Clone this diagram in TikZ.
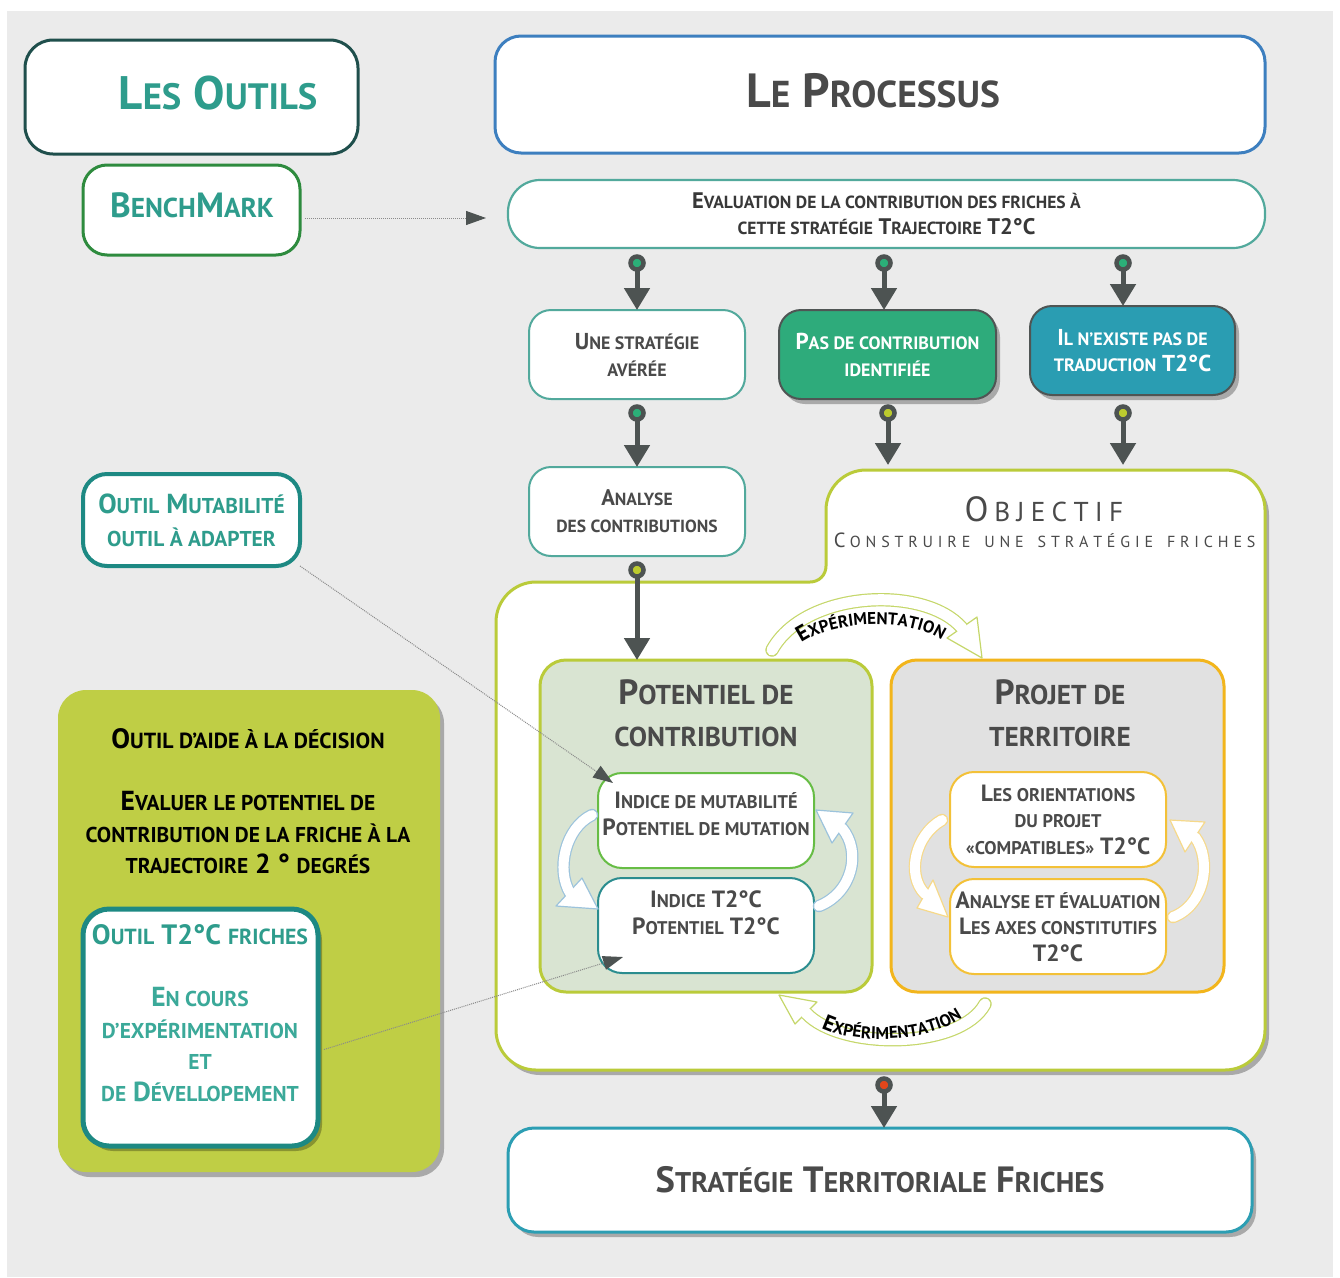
\documentclass[tikz,border=0pt]{standalone}
\usepackage{fontspec}
\setmainfont{PT Sans}
\usetikzlibrary{arrows.meta,shadows,decorations.text}
\definecolor{bgc}{HTML}{EBEBEB}
\definecolor{outc}{HTML}{1F4F4C}
\definecolor{tealtxt}{HTML}{2E9C8C}
\definecolor{benchc}{HTML}{2E8B3E}
\definecolor{procc}{HTML}{3D7FBF}
\definecolor{evalc}{HTML}{52A99C}
\definecolor{txtc}{HTML}{4A4A4A}
\definecolor{darkbord}{HTML}{4F5554}
\definecolor{pasc}{HTML}{2EAB7B}
\definecolor{ilnc}{HTML}{2A9DB2}
\definecolor{ringc}{HTML}{4D5352}
\definecolor{dgreen}{HTML}{2BAF78}
\definecolor{dlime}{HTML}{BCCB2E}
\definecolor{dred}{HTML}{E2461B}
\definecolor{objc}{HTML}{BACB3A}
\definecolor{potfill}{HTML}{D9E4D2}
\definecolor{projfill}{HTML}{E1E1E1}
\definecolor{projc}{HTML}{F2B51C}
\definecolor{indac}{HTML}{67BD45}
\definecolor{indbc}{HTML}{2B8D8F}
\definecolor{orc}{HTML}{F3C138}
\definecolor{bluec}{HTML}{9CC3DC}
\definecolor{yelc}{HTML}{F6D98A}
\definecolor{expc}{HTML}{C5D76A}
\definecolor{panelc}{HTML}{BFCE45}
\definecolor{mutc}{HTML}{1D8983}
\definecolor{ttxt}{HTML}{3BA999}
\definecolor{stratc}{HTML}{2C9EB3}
\definecolor{dotc}{HTML}{8A8A8A}
\newcommand\sm[1]{\scalebox{0.78}{\MakeUppercase{#1}}}
\newcommand\fs[2]{\fontsize{#1}{#2}\selectfont}
\newlength\lspamt
\def\lsp#1{\lspA#1\relax}
\def\lspA#1{\ifx#1\relax\else#1\hspace{\lspamt}\expandafter\lspA\fi}
% hollow block arrow: #1 colour, #2 shaft path, #3 head polygon, #4 outer width, #5 inner width
\newcommand\harrow[5]{%
  \draw[draw=#1, line width=#4, line cap=round] #2;
  \filldraw[draw=#1, fill=white, line width=1.2pt, line join=round] #3 -- cycle;
  \draw[white, line width=#5, line cap=round] #2;
}
\begin{document}
\begin{tikzpicture}[x=1pt,y=-1pt,
  every node/.style={inner sep=0pt, outer sep=0pt},
  bx/.style={draw, fill=white, rounded corners=22, align=center, text=txtc},
  shad/.style={drop shadow={shadow xshift=4pt, shadow yshift=-5pt, opacity=0.28, fill=black}},
  dotring/.style={circle, draw=ringc, line width=4.5pt, fill=#1, minimum size=13pt, inner sep=0pt},
  conn/.style={draw=ringc, line width=5pt, -{Triangle[width=25pt,length=22pt]}},
  dotarrow/.style={draw=dotc, line width=1pt, densely dotted, -{Triangle[width=14pt,length=20pt,color=ringc]}},
  lbl/.style={align=center, text=txtc}
]
\useasboundingbox (0,0) rectangle (1340,1277);
\fill[bgc] (7,11) rectangle (1333,1277);

% ---------- left column: tools ----------
\node[bx, draw=outc, line width=3, rounded corners=28, minimum width=333, minimum height=114] (outils) at (191.5,97) {};
\node[lbl, font=\fs{47}{52}\bfseries, text=tealtxt] (outilsT) at (218,93) {L\sm{es} O\sm{utils}};

\node[bx, draw=benchc, line width=3, rounded corners=24, minimum width=217, minimum height=90] (bench) at (191.5,210) {};
\node[lbl, font=\fs{35}{40}\bfseries, text=tealtxt] (benchT) at (192,205) {B\sm{ench}M\sm{ark}};

\node[bx, draw=mutc, line width=4, rounded corners=24, minimum width=217, minimum height=92, font=\fs{27.5}{33}\bfseries, text=tealtxt] (mutab) at (191.5,520) {O\sm{util} M\sm{utabilité}\\\sm{outil à adapter}};

\node[bx, draw=none, fill=panelc, rounded corners=28, minimum width=382, minimum height=482, shad] (panel) at (249,931) {};
\node[lbl, font=\fs{28}{30}\bfseries, text=black] (panelA) at (248,739) {O\sm{util d’aide à la décision}};
\node[lbl, font=\fs{27.5}{31.5}\bfseries, text=black] (panelB) at (248,833) {E\sm{valuer le potentiel de}\\\sm{contribution de la friche à la}\\\sm{trajectoire} 2 ° \sm{degrés}};

\node[bx, draw=mutc, line width=5, rounded corners=26, minimum width=235, minimum height=237, shad] (t2) at (200.5,1027.5) {};
\node[lbl, font=\fs{28}{30}\bfseries, text=tealtxt] (t2A) at (200,935) {O\sm{util} T2°C \sm{friches}};
\node[lbl, font=\fs{27.5}{31.7}\bfseries, text=ttxt] (t2B) at (200,1044.5) {E\sm{n cours}\\\sm{d’expérimentation}\\\sm{et}\\\sm{de} D\sm{évellopement}};

% ---------- process ----------
\node[bx, draw=procc, line width=3, rounded corners=26, minimum width=770, minimum height=117] (proc) at (880,94.5) {};
\node[lbl, font=\fs{48}{52}\bfseries] (procT) at (873,91) {L\sm{e} P\sm{rocessus}};

\node[bx, draw=evalc, line width=2.2, rounded corners=32, minimum width=757, minimum height=68, font=\fs{22.5}{26}\bfseries, text=black!78] (eval) at (886.5,214) {E\sm{valuation de la contribution des friches à}\\\sm{cette stratégie} T\sm{rajectoire} T2°C};

\node[bx, draw=evalc, line width=2, minimum width=216, minimum height=89, font=\fs{23}{27}\bfseries] (une) at (637,354.5) {U\sm{ne stratégie}\\\sm{avérée}};
\node[bx, draw=darkbord, fill=pasc, text=white, line width=2, minimum width=217, minimum height=89, font=\fs{23}{27}\bfseries, shad] (pasde) at (887.5,354.5) {P\sm{as de contribution}\\\sm{identifiée}};
\node[bx, draw=darkbord, fill=ilnc, text=white, line width=2, minimum width=205, minimum height=89, font=\fs{23}{26}\bfseries, shad] (ilnex) at (1132.5,350.5) {I\sm{l n’existe pas de}\\\sm{traduction} T2°C};
\node[bx, draw=evalc, line width=2, minimum width=216, minimum height=89, font=\fs{22.5}{27}\bfseries] (analyse) at (637,511.5) {A\sm{nalyse}\\\sm{des contributions}};

% ---------- objective area ----------
\draw[draw=objc, line width=3, fill=white, shad]
  (900,470) -- (1225,470) .. controls (1247,470) and (1265,488) .. (1265,510)
  -- (1265,1030) .. controls (1265,1052) and (1247,1070) .. (1225,1070)
  -- (536,1070) .. controls (514,1070) and (496,1052) .. (496,1030)
  -- (496,622) .. controls (496,600) and (514,582) .. (536,582)
  -- (810,582) .. controls (819,582) and (826,575) .. (826,566)
  -- (826,510) .. controls (826,488) and (844,470) .. (866,470) -- cycle;
\node[lbl, font=\fs{35}{40}] (objT) at (1047,509) {O\hspace{6pt}\scalebox{0.78}{\setlength\lspamt{8pt}\lsp{BJECTIF}}};
\node[lbl, font=\fs{20.5}{24}] (objS) at (1047,540) {C\hspace{4.5pt}\scalebox{0.78}{\setlength\lspamt{6.2pt}\lsp{ONSTRUIRE~UNE~STRATÉGIE~FRICHES}}};

\node[bx, draw=objc, fill=potfill, line width=3, rounded corners=26, minimum width=332, minimum height=332] (pot) at (706,826) {};
\node[lbl, font=\fs{35}{42}\bfseries] (potT) at (706,713) {P\sm{otentiel de}\\\sm{contribution}};
\node[bx, draw=projc, fill=projfill, line width=3, rounded corners=26, minimum width=333, minimum height=332] (proj) at (1057.5,826) {};
\node[lbl, font=\fs{35}{42}\bfseries] (projT) at (1060,713) {P\sm{rojet de}\\\sm{territoire}};

\node[bx, draw=indac, line width=2, rounded corners=24, minimum width=216, minimum height=95] (inda) at (706,820.5) {};
\node[lbl, font=\fs{23.5}{27}\bfseries] (indaT) at (706,813.5) {I\sm{ndice de mutabilité}\\P\sm{otentiel de mutation}};
\node[bx, draw=indbc, line width=2, rounded corners=24, minimum width=216, minimum height=95] (indb) at (706,925.5) {};
\node[lbl, font=\fs{23.5}{27}\bfseries] (indbT) at (706,912.5) {I\sm{ndice} T2°C\\P\sm{otentiel} T2°C};

\node[bx, draw=orc, line width=2, rounded corners=24, minimum width=216, minimum height=95, font=\fs{23.5}{26.5}\bfseries] (orient) at (1058,819.5) {L\sm{es orientations}\\\sm{du projet}\\\sm{«compatibles»} T2°C};
\node[bx, draw=orc, line width=2, rounded corners=24, minimum width=216, minimum height=95, font=\fs{23.5}{26.5}\bfseries] (axes) at (1058,926.5) {A\sm{nalyse et évaluation}\\L\sm{es axes constitutifs}\\T2°C};

% circular hollow arrows
\harrow{bluec}{(592,815) .. controls (565,828) and (556,870) .. (570,893)}{(556,906) -- (582,878) -- (598,909)}{12.4pt}{10pt}
\harrow{bluec}{(819,906) .. controls (852,893) and (862,852) .. (842,828)}{(853,813) -- (832,843) -- (816,810)}{12.4pt}{10pt}
\harrow{yelc}{(942,820) .. controls (915,835) and (906,875) .. (925,894)}{(917,908) -- (933,880) -- (948,917)}{12.4pt}{10pt}
\harrow{yelc}{(1173,917) .. controls (1205,905) and (1212,860) .. (1195,837)}{(1205,822) -- (1185,852) -- (1170,820)}{12.4pt}{10pt}

% experimentation arcs
\harrow{expc}{(772,650) .. controls (805,590) and (925,585) .. (962,628)}{(947,638) -- (977,617) -- (982,658)}{13.4pt}{11pt}
\path[decorate, decoration={text along path, text align=center,
  text={|\fs{22}{22}\bfseries|E|\fs{17}{17}\bfseries|XPÉRIMENTATION}}]
  (793,650) .. controls (823,619) and (917,614) .. (950,647);
\harrow{expc}{(985,1004) .. controls (960,1050) and (840,1050) .. (806,1013)}{(817,1002) -- (795,1024) -- (779,995)}{13.4pt}{11pt}
\path[decorate, decoration={text along path, text align=center,
  text={|\fs{22}{22}\bfseries|E|\fs{17}{17}\bfseries|XPÉRIMENTATION}}]
  (813,1023) .. controls (845,1046) and (932,1046) .. (970,1012);

% ---------- final strategy ----------
\node[bx, draw=stratc, line width=3, rounded corners=26, minimum width=744, minimum height=104, font=\fs{36.5}{40}\bfseries, shad] (strat) at (880,1180) {S\sm{tratégie} T\sm{erritoriale} F\sm{riches}};

% ---------- connectors ----------
\node[dotring=dgreen] (ra) at (637,263) {};
\node[dotring=dgreen] (rb) at (884,263) {};
\node[dotring=dgreen] (rc) at (1123,263) {};
\draw[conn] (ra) -- (ra |- une.north);
\draw[conn] (rb) -- (rb |- pasde.north);
\draw[conn] (rc) -- (rc |- ilnex.north);
\node[dotring=dgreen] (rd) at (637,413) {};
\node[dotring=dlime] (re) at (888,413) {};
\node[dotring=dlime] (rf) at (1123,413) {};
\coordinate (objA) at (888,465);
\coordinate (objB) at (1123,465);
\draw[conn] (rd) -- (analyse.north);
\draw[conn] (re) -- (objA);
\draw[conn] (rf) -- (objB);
\node[dotring=dlime] (rg) at (637,570) {};
\draw[conn] (rg) -- (rg |- pot.north);
\node[dotring=dred] (rh) at (884,1085) {};
\draw[conn] (rh) -- (rh |- strat.north);

% dotted tool links
\coordinate (benchTip) at (486,218);
\draw[dotarrow] ([shift={(5,8)}]bench.east) -- (benchTip);
\draw[dotarrow] (mutab.south east) -- ([shift={(15,10)}]inda.north west);
\draw[dotarrow] ([shift={(6,22)}]t2.east) -- ([shift={(25,-16)}]indb.south west);
\end{tikzpicture}
\end{document}
